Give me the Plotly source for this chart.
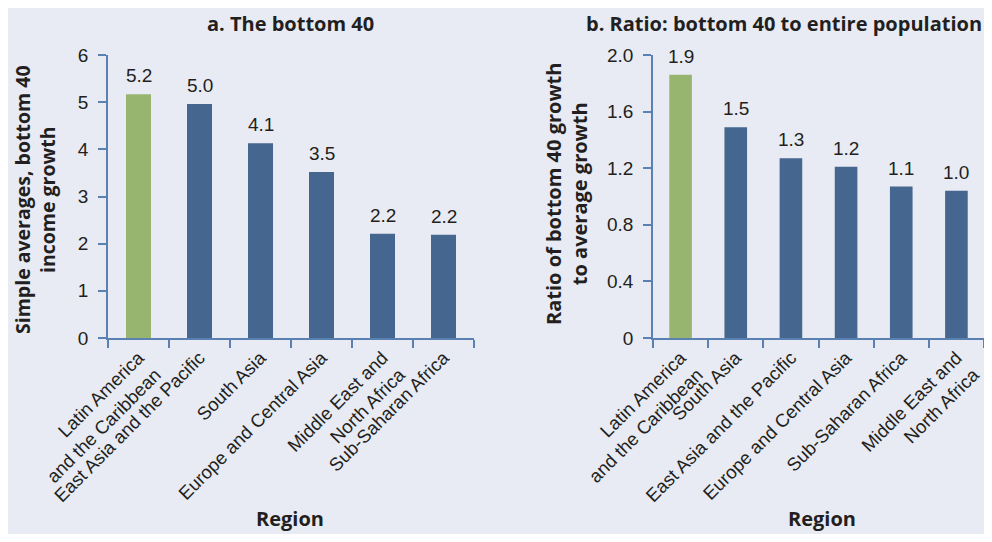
import plotly.graph_objects as go
from plotly.subplots import make_subplots

regions_a = ["Latin America<br>and the Caribbean", "East Asia and the Pacific", "South Asia",
             "Europe and Central Asia", "Middle East and<br>North Africa", "Sub-Saharan Africa"]
growth_a = [5.17, 4.96, 4.13, 3.52, 2.21, 2.19]

regions_b = ["Latin America<br>and the Caribbean", "South Asia", "East Asia and the Pacific",
             "Europe and Central Asia", "Sub-Saharan Africa", "Middle East and<br>North Africa"]
ratio_b = [1.86, 1.49, 1.27, 1.21, 1.07, 1.04]

ticks_a = [0, 1, 2, 3, 4, 5, 6]
ticks_b = [0, 0.4, 0.8, 1.2, 1.6, 2.0]
ticktext_b = ["0", "0.4", "0.8", "1.2", "1.6", "2.0"]

GREEN = "#98b56f"
BLUE = "#45668f"
AXIS = "#5b80b2"
BG = "#e8ebf3"
INK = "#231f20"
FONT = "Liberation Sans, Arial, sans-serif"
BOLD = "Open Sans, Liberation Sans, Arial, sans-serif"

# page body has an 8px margin, so the figure is sized to fit inside the window
W, H = 976, 526

fig = make_subplots(rows=1, cols=2)

colors_a = [GREEN] + [BLUE] * (len(growth_a) - 1)
colors_b = [GREEN] + [BLUE] * (len(ratio_b) - 1)

fig.add_trace(go.Bar(x=regions_a, y=growth_a, marker=dict(color=colors_a, line=dict(width=0)),
                     width=0.41), row=1, col=1)
fig.add_trace(go.Bar(x=regions_b, y=ratio_b, marker=dict(color=colors_b, line=dict(width=0)),
                     width=0.41), row=1, col=2)

axis_common = dict(showline=True, linecolor=AXIS, linewidth=1.5, ticks="outside",
                   tickcolor=AXIS, ticklen=8, tickwidth=1.5, showgrid=False, zeroline=False,
                   automargin=False)

fig.update_xaxes(**axis_common, tickson="boundaries", tickangle=-45,
                 tickfont=dict(size=18.5, color=INK, family=FONT))
fig.update_xaxes(domain=[100 / W, 466 / W], row=1, col=1)
fig.update_xaxes(domain=[645 / W, 1.0], row=1, col=2)

fig.update_yaxes(**axis_common, tickfont=dict(size=19, color=INK, family=FONT),
                 ticklabelstandoff=6, domain=[1 - 330 / H, 1 - 47 / H])
fig.update_yaxes(range=[0, 6], tickvals=ticks_a, row=1, col=1)
fig.update_yaxes(range=[0, 2.0], tickvals=ticks_b, ticktext=ticktext_b, row=1, col=2)

ann = dict(xref="paper", yref="paper", showarrow=False, xanchor="center")
bold20 = dict(size=20, color=INK, family=BOLD)
annotations = [
    dict(text="<b>a. The bottom 40</b>", x=282 / W, y=1.0, yanchor="top", font=bold20, **ann),
    dict(text="<b>b. Ratio: bottom 40 to entire population</b>", x=776 / W, y=1.0,
         yanchor="top", font=bold20, **ann),
    dict(text="<b>Region</b>", x=282 / W, y=0.0, yanchor="bottom", font=bold20, **ann),
    dict(text="<b>Region</b>", x=814 / W, y=0.0, yanchor="bottom", font=bold20, **ann),
    dict(text="<b>Simple averages, bottom 40<br>income growth</b>", x=27 / W, y=1 - 192 / H,
         yanchor="middle", textangle=-90, font=dict(size=19.5, color=INK, family=BOLD), **ann),
    dict(text="<b>Ratio of bottom 40 growth<br>to average growth</b>", x=558 / W, y=1 - 186 / H,
         yanchor="middle", textangle=-90, font=bold20, **ann),
]

# value labels above the bars
for xref, yref, cats, vals in [("x", "y", regions_a, growth_a), ("x2", "y2", regions_b, ratio_b)]:
    for c, v in zip(cats, vals):
        annotations.append(dict(x=c, y=v, xref=xref, yref=yref, text=f"{v:.1f}",
                                showarrow=False, yanchor="bottom", yshift=6,
                                font=dict(size=19, color=INK, family=FONT)))

fig.update_layout(width=W, height=H, margin=dict(l=0, r=0, t=0, b=0),
                  paper_bgcolor=BG, plot_bgcolor=BG, showlegend=False,
                  font=dict(family=FONT, color=INK), bargap=0.59,
                  annotations=annotations)

fig.write_html("out.html")
